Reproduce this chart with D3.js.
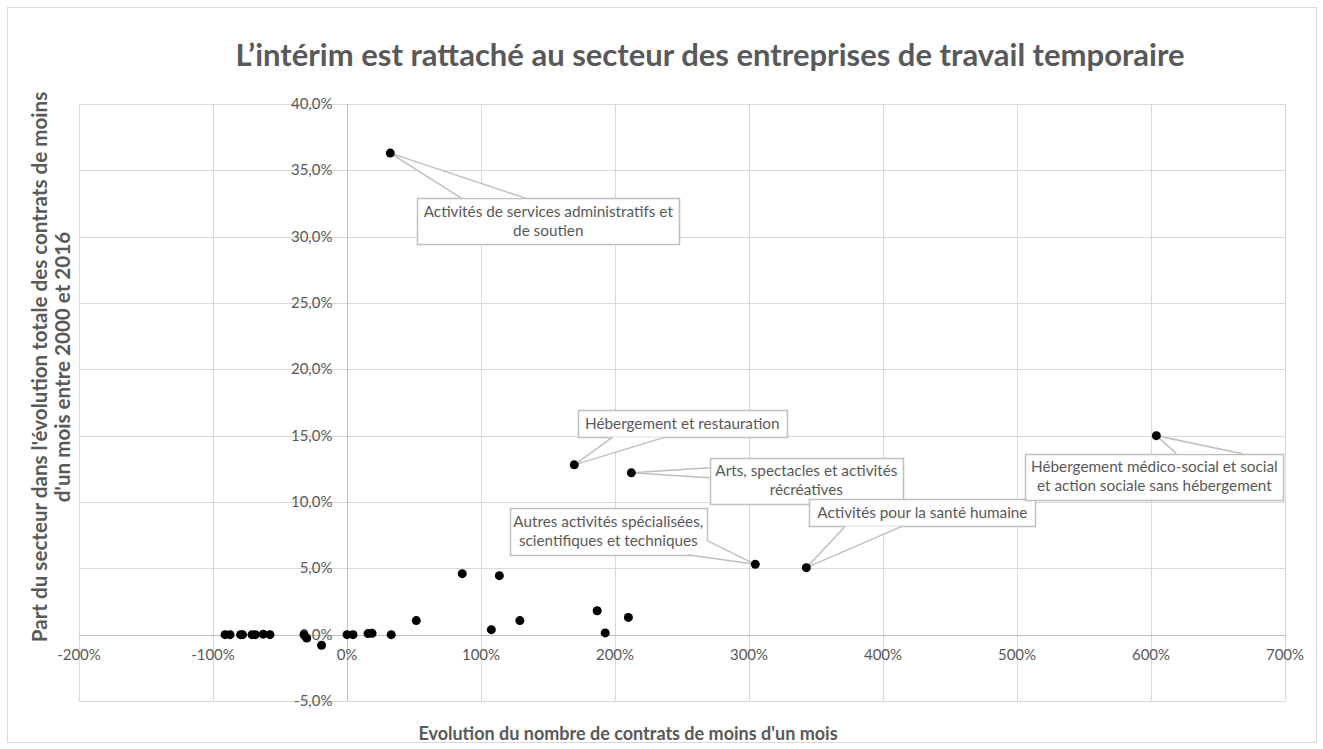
<!DOCTYPE html>
<html><head><meta charset="utf-8">
<script src="https://cdn.jsdelivr.net/npm/d3@7"></script>
<style>
body{margin:0;background:#fff;}
svg{display:block;font-family:Lato,"Open Sans",sans-serif;}
</style></head>
<body><svg id="chart" width="1323" height="749"></svg>
<script>
// ---- data ----
const xTicks = [-200,-100,0,100,200,300,400,500,600,700];
const yTicks = [-5,0,5,10,15,20,25,30,35,40];
// evolution (%) of number of contracts < 1 month, share (%) of sector in total evolution
const sectorNames = [
  "Activités de services administratifs et|de soutien",
  "Hébergement et restauration",
  "Arts, spectacles et activités|récréatives",
  "Autres activités spécialisées,|scientifiques et techniques",
  "Activités pour la santé humaine",
  "Hébergement médico-social et social|et action sociale sans hébergement"
];
const labeledX = [32.3, 169.6, 212.2, 304.7, 342.8, 604.0];
const labeledY = [36.3, 12.8, 12.2, 5.3, 5.05, 15.0];
const otherX = [86.0, 113.7, 51.7, 107.7, 129.0, 186.7, 192.7, 210.0,
  -91.0, -87.3, -79.4, -78.0, -70.9, -68.4, -62.5, -57.5, -32.1, -30.1, -19.0,
  0.0, 4.5, 15.7, 18.7, 33.0];
const otherY = [4.6, 4.45, 1.06, 0.38, 1.06, 1.8, 0.13, 1.3,
  0.0, 0.0, 0.0, 0.0, 0.0, 0.0, 0.04, 0.0, 0.0, -0.25, -0.8,
  0.0, 0.0, 0.08, 0.1, 0.0];

// ---- label layout (box center offset from point, box size, wedge base points relative to box center; px) ----
const labelLayout = [
  {dx:158, dy:68, w:262, h:46, p1:[-87,-23], p2:[-23,-23]},
  {dx:108, dy:-41, w:209, h:27, p1:[-70,13.5], p2:[-18,13.5]},
  {dx:175, dy:8, w:193, h:46, p1:[-96.5,-13], p2:[-96.5,-3]},
  {dx:-147, dy:-33, w:197, h:47, p1:[79,23.5], p2:[98.5,9]},
  {dx:116, dy:-55, w:226, h:27, p1:[-77,13.5], p2:[-20,13.5]},
  {dx:-2, dy:41, w:258, h:46, p1:[22,-23], p2:[88,-23]}
];

const svg = d3.select("#chart");
svg.append("rect").attr("x",7.5).attr("y",7.5).attr("width",1309).attr("height",735)
  .attr("fill","#fff").attr("stroke","#d9d9d9");

const x = d3.scaleLinear().domain([-200,700]).range([79,1285]);
const y = d3.scaleLinear().domain([-5,40]).range([701,104]);
const grey = "#595959";

// gridlines
svg.append("g").selectAll("line").data(xTicks).join("line")
  .attr("x1",d=>Math.round(x(d))+0.5).attr("x2",d=>Math.round(x(d))+0.5)
  .attr("y1",y(40)).attr("y2",y(-5)).attr("stroke","#d9d9d9");
svg.append("g").selectAll("line").data(yTicks).join("line")
  .attr("y1",d=>Math.round(y(d))+0.5).attr("y2",d=>Math.round(y(d))+0.5)
  .attr("x1",x(-200)).attr("x2",x(700)).attr("stroke","#d9d9d9");

// axis lines through zero
const x0 = Math.round(x(0))+0.5, y0 = Math.round(y(0))+0.5;
svg.append("line").attr("x1",x(-200)).attr("x2",x(700)).attr("y1",y0).attr("y2",y0).attr("stroke","#bfbfbf");
svg.append("line").attr("x1",x0).attr("x2",x0).attr("y1",y(40)).attr("y2",y(-5)).attr("stroke","#bfbfbf");

// tick labels
svg.append("g").selectAll("text").data(xTicks).join("text")
  .attr("x",d=>x(d)).attr("y",y0+24).attr("text-anchor","middle")
  .attr("font-size",15).attr("fill",grey).text(d=>d+"%");
svg.append("g").selectAll("text").data(yTicks).join("text")
  .attr("x",x0-15).attr("y",d=>y(d)+5).attr("text-anchor","end")
  .attr("font-size",15).attr("fill",grey).text(d=>d.toFixed(1).replace(".",",")+"%");

// title
svg.append("text").attr("x",710).attr("y",66).attr("text-anchor","middle")
  .attr("font-size",31).attr("font-weight","bold").attr("fill",grey)
  .text("L’intérim est rattaché au secteur des entreprises de travail temporaire");
// axis titles
svg.append("text").attr("x",628).attr("y",740).attr("text-anchor","middle")
  .attr("font-size",18).attr("font-weight","bold").attr("fill",grey)
  .text("Evolution du nombre de contrats de moins d'un mois");
const yt = svg.append("text").attr("transform","translate(47,367) rotate(-90)")
  .attr("text-anchor","middle").attr("font-size",20.6).attr("font-weight","bold").attr("fill",grey);
yt.append("tspan").attr("x",0).attr("y",0).text("Part du secteur dans l'évolution totale des contrats de moins");
yt.append("tspan").attr("x",0).attr("y",23).text("d'un mois entre 2000 et 2016");

// points
const others = otherX.map((v,i)=>({x:v,y:otherY[i]}));
svg.append("g").selectAll("circle").data(others).join("circle")
  .attr("cx",d=>x(d.x)).attr("cy",d=>y(d.y)).attr("r",4.5).attr("fill","#000");

const labeled = sectorNames.map((n,i)=>({name:n,x:labeledX[i],y:labeledY[i],L:labelLayout[i]}));
const lg = svg.append("g");
labeled.forEach(d=>{
  const px = x(d.x), py = y(d.y), L = d.L;
  const cx = px+L.dx, cy = py+L.dy;
  const left = cx-L.w/2, top = cy-L.h/2;
  const p1 = [cx+L.p1[0], cy+L.p1[1]], p2 = [cx+L.p2[0], cy+L.p2[1]];
  const g = lg.append("g");
  g.append("rect").attr("x",Math.round(left)+0.5).attr("y",Math.round(top)+0.5)
    .attr("width",L.w).attr("height",L.h).attr("fill","#fff").attr("stroke","#bfbfbf").attr("stroke-width",1.5);
  g.append("path").attr("d",`M${p1[0]},${p1[1]}L${px},${py}L${p2[0]},${p2[1]}Z`)
    .attr("fill","#fff").attr("stroke","none");
  g.append("path").attr("d",`M${p1[0]},${p1[1]}L${px},${py}L${p2[0]},${p2[1]}`)
    .attr("fill","none").attr("stroke","#bfbfbf").attr("stroke-width",1.5);
  const lines = d.name.split("|");
  const t = g.append("text").attr("text-anchor","middle").attr("font-size",15.3).attr("fill",grey);
  const lh = 19;
  lines.forEach((s,i)=>{
    t.append("tspan").attr("x",cx).attr("y",cy+5+(i-(lines.length-1)/2)*lh).text(s);
  });
  g.append("circle").attr("cx",px).attr("cy",py).attr("r",4.5).attr("fill","#000");
});
</script></body></html>
